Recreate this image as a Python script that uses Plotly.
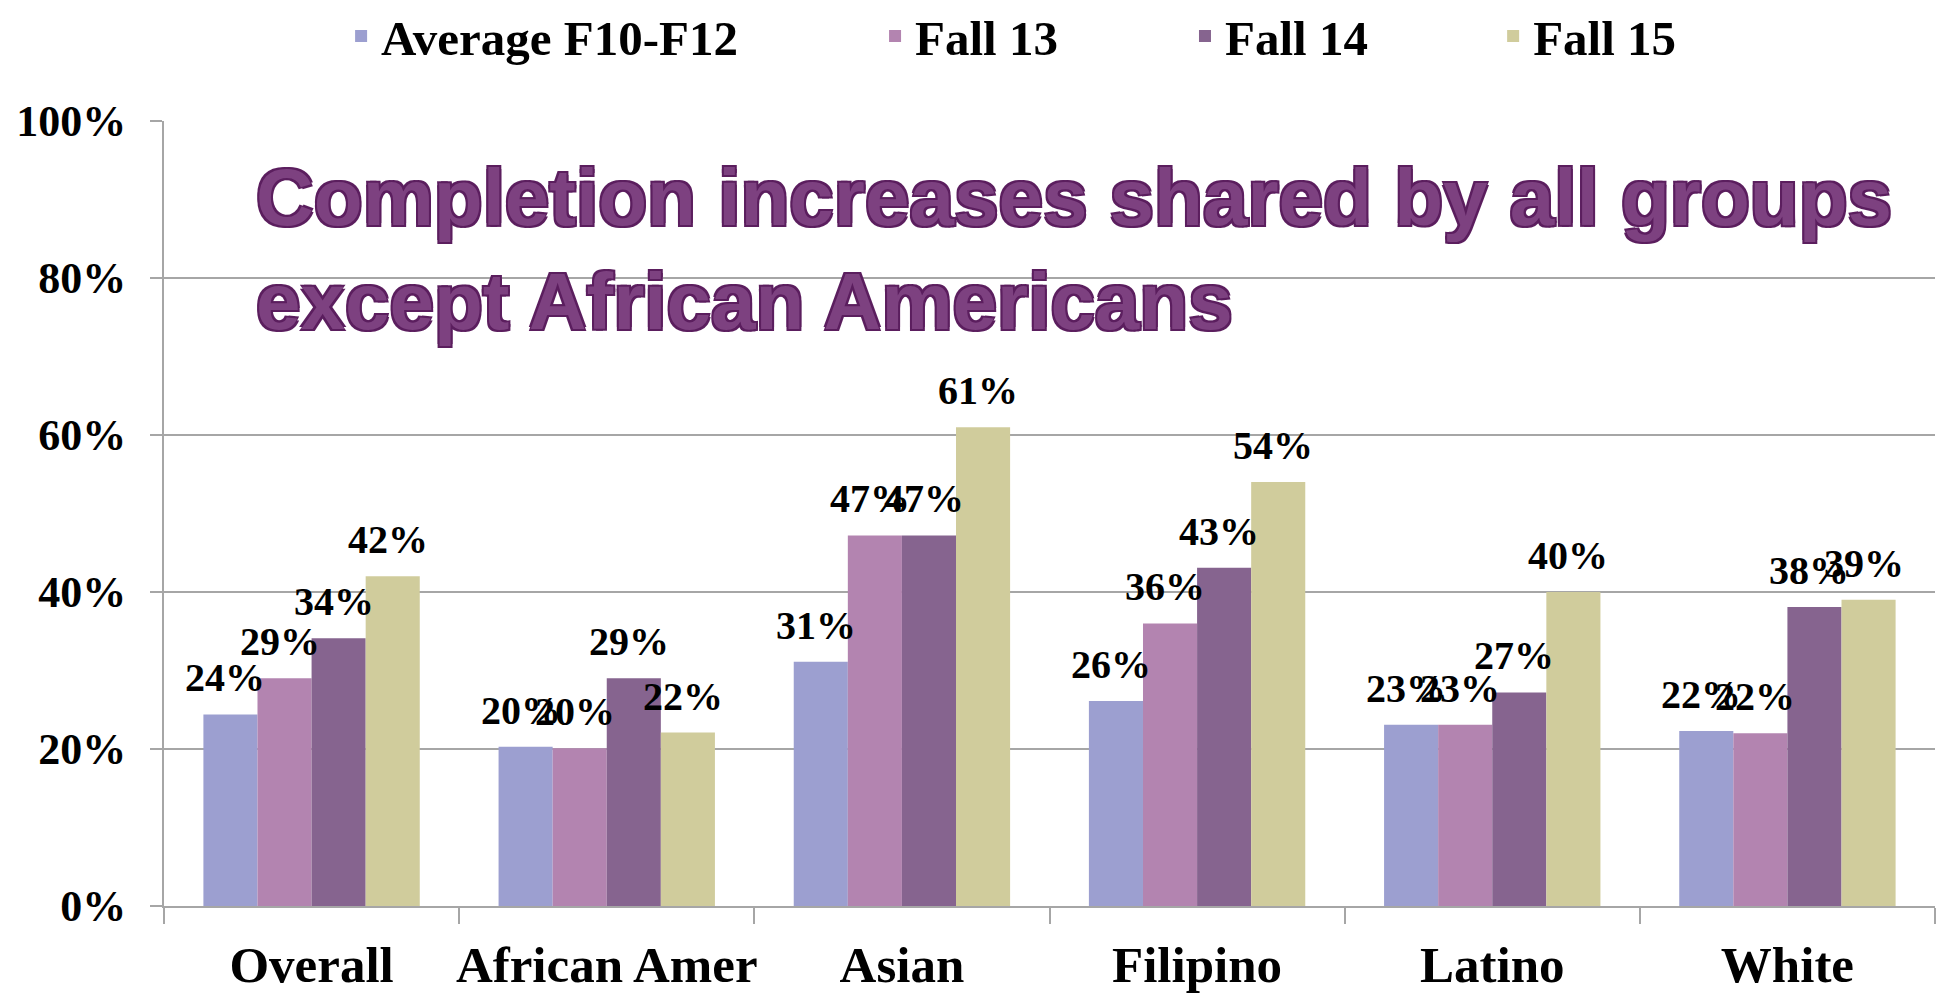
import plotly.graph_objects as go

categories = ["Overall", "African Amer", "Asian", "Filipino", "Latino", "White"]
series_names = ["Average F10-F12", "Fall 13", "Fall 14", "Fall 15"]
avg_f10_f12 = [0.244, 0.203, 0.311, 0.261, 0.231, 0.223]
fall_13 = [0.290, 0.201, 0.472, 0.360, 0.231, 0.220]
fall_14 = [0.341, 0.290, 0.472, 0.431, 0.272, 0.381]
fall_15 = [0.420, 0.221, 0.610, 0.540, 0.400, 0.390]
y_tick_vals = [0, 0.2, 0.4, 0.6, 0.8, 1.0]
y_tick_text = ["0%", "20%", "40%", "60%", "80%", "100%"]
title_lines = ["Completion increases shared by all groups", "except African Americans"]

series_values = [avg_f10_f12, fall_13, fall_14, fall_15]
colors = ["#9c9fd0", "#b384b0", "#86648f", "#d0cc9c"]
legend_ids = ["legend", "legend2", "legend3", "legend4"]
legend_x = [0.100, 0.4015, 0.5765, 0.7505]

SERIF = "Liberation Serif"
GRID = "#a6a6a6"
BARGAP = 0.267
FIG_W, FIG_H = 1936, 987
M_L, M_R, M_T, M_B = 156, 9, 113, 89

fig = go.Figure()
for name, vals, col, lid in zip(series_names, series_values, colors, legend_ids):
    fig.add_trace(go.Bar(
        name=name, x=categories, y=vals,
        marker=dict(color=col, line=dict(width=0)),
        legend=lid,
    ))

# data labels: placed above each bar through the axes' own scales
plot_w = FIG_W - M_L - M_R
bar_w = plot_w / len(categories) * (1 - BARGAP) / len(series_values)
n = len(series_values)
for i, vals in enumerate(series_values):
    for cat, v in zip(categories, vals):
        fig.add_annotation(
            x=cat, y=v, xref="x", yref="y",
            text=f"{round(v * 100)}%", showarrow=False,
            xanchor="center", yanchor="bottom",
            xshift=(i - (n - 1) / 2) * bar_w - 5, yshift=12,
            font=dict(family=SERIF, size=40, color="black", weight="bold"),
        )

legend_common = dict(
    orientation="h", yanchor="middle", y=1.108, xanchor="left",
    font=dict(family=SERIF, size=49, color="black", weight="bold"),
    bgcolor="rgba(0,0,0,0)",
)
layout_legends = {}
for lid, lx in zip(legend_ids, legend_x):
    layout_legends[lid] = dict(legend_common, x=lx)

fig.update_layout(
    width=FIG_W, height=FIG_H,
    margin=dict(l=M_L, r=M_R, t=M_T, b=M_B, autoexpand=False),
    paper_bgcolor="white", plot_bgcolor="white",
    barmode="group", bargap=BARGAP, bargroupgap=0,
    showlegend=True,
    **layout_legends,
    xaxis=dict(
        showline=True, linecolor=GRID, linewidth=2,
        ticks="outside", tickson="boundaries", ticklen=16, tickcolor=GRID, tickwidth=2,
        ticklabelstandoff=13, tickangle=0, automargin=False,
        tickfont=dict(family=SERIF, size=51, color="black", weight="bold"),
        showgrid=False,
    ),
    yaxis=dict(
        range=[0, 1], tickvals=y_tick_vals, ticktext=y_tick_text,
        showline=True, linecolor=GRID, linewidth=2,
        ticks="outside", ticklen=12, tickcolor=GRID, tickwidth=2,
        ticklabelstandoff=15, automargin=False,
        showgrid=True, gridcolor=GRID, gridwidth=2, zeroline=False,
        tickfont=dict(family=SERIF, size=44, color="black", weight="bold"),
    ),
)

fig.add_annotation(
    xref="paper", yref="paper", x=0.051, y=0.836,
    xanchor="left", yanchor="middle", align="left",
    text="<br>".join(title_lines), showarrow=False,
    font=dict(family="Liberation Sans", size=80, color="#7d4180", weight="bold",
              shadow="-2px -2px 0 #5b1e5e, 2px -2px 0 #5b1e5e, -2px 2px 0 #5b1e5e, 2px 2px 0 #5b1e5e"),
)

fig.write_html("out.html")
